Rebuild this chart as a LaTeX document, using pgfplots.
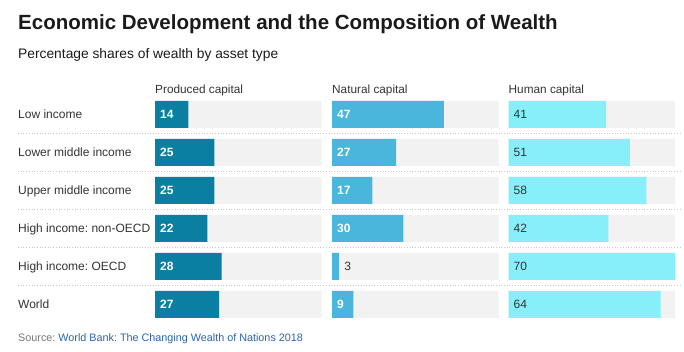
\documentclass[border=0pt]{standalone}
\usepackage{fontspec}
\setmainfont{Liberation Sans}
\usepackage{pgfplots}
\pgfplotsset{compat=1.18}
\frenchspacing
\definecolor{prod}{HTML}{0B7FA1}
\definecolor{natc}{HTML}{4BB6DC}
\definecolor{humc}{HTML}{86EFFA}
\definecolor{track}{HTML}{F2F2F2}
\definecolor{titlec}{HTML}{1A1A1A}
\definecolor{txt}{HTML}{333333}
\definecolor{srcgray}{HTML}{777777}
\definecolor{srcblue}{HTML}{2A64AE}
\definecolor{sep}{HTML}{C8C8C8}
\pgfplotsset{
  panel/.style={
    anchor=north west, width=166.5pt, height=228pt, scale only axis,
    xmin=0, xmax=70, ymin=0.5, ymax=6.5, y dir=reverse,
    axis line style={draw=none}, xtick=\empty, ytick=\empty,
    major tick length=0pt, clip=false,
    title style={at={(0,1)}, anchor=base west, inner sep=0pt, yshift=-4.5pt,
      font=\fontsize{11.8}{14}\selectfont, text=txt},
  },
  track/.style={xbar, bar width=27pt, bar shift=0pt, fill=track, draw=none},
  vbar/.style={xbar, bar width=27pt, bar shift=0pt, fill=#1, draw=none},
  vlab/.style={draw=none, mark=none, point meta=explicit,
    /pgf/number format/assume math mode=true,
    nodes near coords={\pgfmathprintnumber{\pgfplotspointmeta}},
    nodes near coords align=horizontal,
    every node near coord/.append style={anchor=west, inner sep=0pt, xshift=5pt, #1}},
}
\begin{document}
\begin{tikzpicture}
\useasboundingbox (0pt,0pt) rectangle (684pt,-352pt);
\node[anchor=base west, inner sep=0pt, font=\fontsize{20.5}{24}\selectfont\bfseries, text=titlec] at (18pt,-30pt) {Economic Development and the Composition of Wealth};
\node[anchor=base west, inner sep=0pt, font=\fontsize{13.8}{16}\selectfont, text=titlec] at (18pt,-59pt) {Percentage shares of wealth by asset type};
\foreach \yy in {133.5,171.5,209.5,247.5,285.5}
  \draw[sep, dotted, line width=0.7pt] (18pt,-\yy pt) -- (680pt,-\yy pt);

\begin{axis}[panel, at={(155pt,-95.5pt)}, title={Produced capital},
  ytick={1,2,3,4,5,6},
  yticklabels={Low income, Lower middle income, Upper middle income, High income: non-OECD, High income: OECD, World},
  yticklabel style={anchor=base west, inner sep=0pt, xshift=-137pt, yshift=-4.5pt,
    font=\fontsize{12}{14}\selectfont, text=txt}]
\addplot[track] coordinates {(70,1) (70,2) (70,3) (70,4) (70,5) (70,6)};
\addplot[vbar=prod] coordinates {(14,1) (25,2) (25,3) (22,4) (28,5) (27,6)};
\addplot[vlab={text=white, font=\fontsize{12}{14}\selectfont\bfseries}] coordinates {(0,1) [14] (0,2) [25] (0,3) [25] (0,4) [22] (0,5) [28] (0,6) [27]};
\end{axis}

\begin{axis}[panel, at={(332pt,-95.5pt)}, title={Natural capital}]
\addplot[track] coordinates {(70,1) (70,2) (70,3) (70,4) (70,5) (70,6)};
\addplot[vbar=natc] coordinates {(47,1) (27,2) (17,3) (30,4) (3,5) (9,6)};
\addplot[vlab={text=white, font=\fontsize{12}{14}\selectfont\bfseries}] coordinates {(0,1) [47] (0,2) [27] (0,3) [17] (0,4) [30] (0,6) [9]};
\addplot[vlab={text=txt, font=\fontsize{12}{14}\selectfont}] coordinates {(3,5) [3]};
\end{axis}

\begin{axis}[panel, at={(508.5pt,-95.5pt)}, title={Human capital}]
\addplot[track] coordinates {(70,1) (70,2) (70,3) (70,4) (70,5) (70,6)};
\addplot[vbar=humc] coordinates {(41,1) (51,2) (58,3) (42,4) (70,5) (64,6)};
\addplot[vlab={text=txt, font=\fontsize{12}{14}\selectfont}] coordinates {(0,1) [41] (0,2) [51] (0,3) [58] (0,4) [42] (0,5) [70] (0,6) [64]};
\end{axis}

\node[anchor=base west, inner sep=0pt, font=\fontsize{10.8}{13}\selectfont] at (18pt,-341.5pt) {\textcolor{srcgray}{Source:} \textcolor{srcblue}{World Bank: The Changing Wealth of Nations 2018}};
\end{tikzpicture}
\end{document}
